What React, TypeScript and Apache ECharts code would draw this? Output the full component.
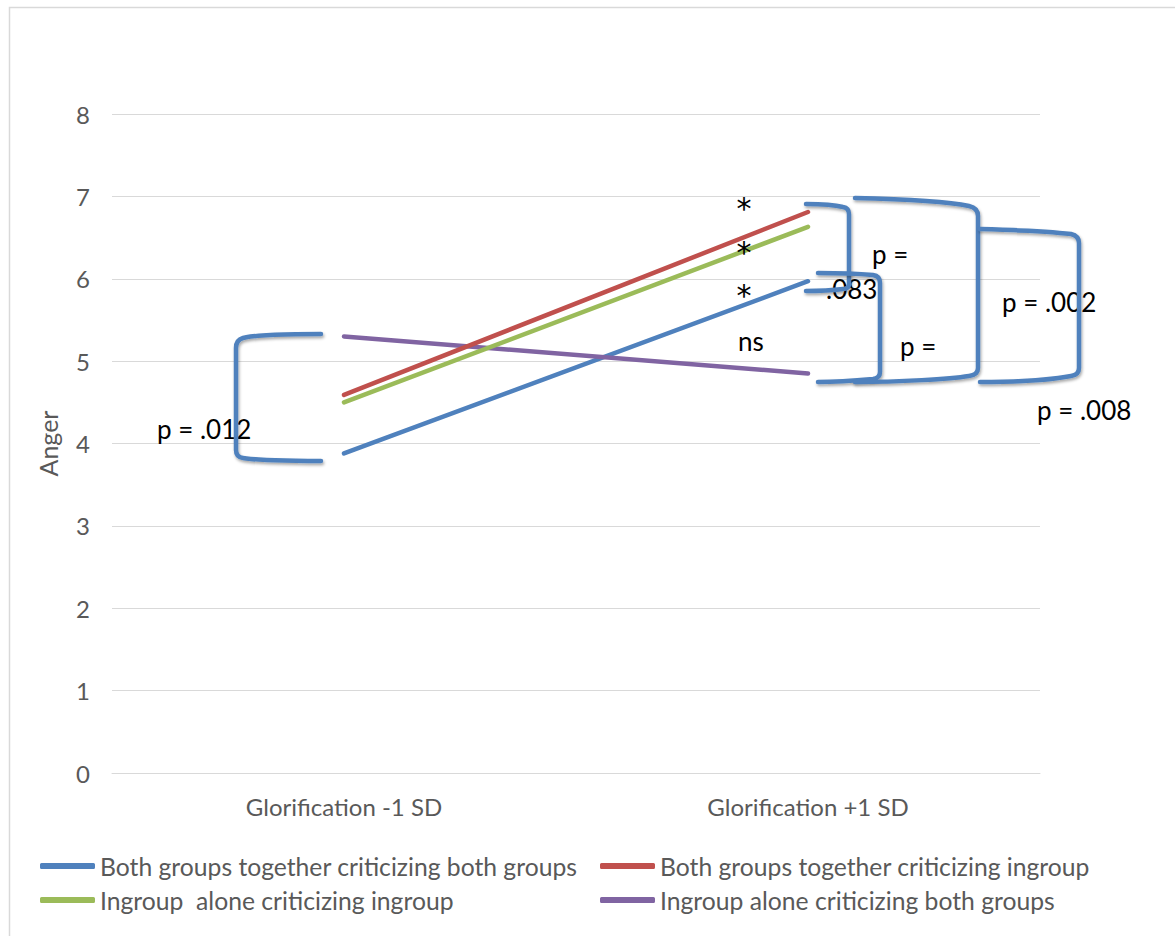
import React, { useEffect, useRef } from "react";
import * as echarts from "echarts";

const categories = ["Glorification -1 SD", "Glorification +1 SD"];
const seriesNames = [
  "Both groups together criticizing both groups",
  "Both groups together criticizing ingroup",
  "Ingroup  alone criticizing ingroup",
  "Ingroup alone criticizing both groups",
];
const seriesColors = ["#4F81BD", "#C0504D", "#9BBB59", "#8064A2"];
const bothBoth = [3.88, 5.97];
const bothIngroup = [4.59, 6.81];
const aloneIngroup = [4.5, 6.63];
const aloneBoth = [5.3, 4.85];
const yTicks = [0, 1, 2, 3, 4, 5, 6, 7, 8];

const BRACKETS: Record<string, string> = {
  brL: "M 321 334 C 290 334 255 335 243 338 Q 236 340 236 348 L 236 450 Q 236 457 243 458 C 255 460 290 461 321 461",
  brA: "M 806 204 C 820 204 835 205 843 207 Q 849 208 849 214 L 849 284 Q 849 289 843 289 C 835 290 820 291 806 291",
  brB: "M 818 273 C 840 273 862 274 873 275 Q 880 276 880 283 L 880 372 Q 880 378 873 379 C 862 380 840 382 818 382",
  brC: "M 855 198 C 900 199 950 202 969 206 Q 978 208 978 216 L 978 368 Q 978 375 969 376 C 950 379 900 382 855 382",
  brD: "M 980 229 C 1020 230 1055 232 1071 234 Q 1079 236 1079 243 L 1079 368 Q 1079 375 1071 376 C 1055 379 1020 382 980 382",
};
Object.keys(BRACKETS).forEach((k) => {
  echarts.graphic.registerShape(k, echarts.graphic.extendPath(BRACKETS[k], {}));
});

const FONT = "Lato";
const AX = "#595959";

function bracket(name: string) {
  return {
    type: name,
    x: 0,
    y: 0,
    z: 20,
    style: {
      fill: "none",
      stroke: "#4F81BD",
      lineWidth: 4.5,
      lineCap: "round",
      shadowBlur: 3,
      shadowOffsetX: 1,
      shadowOffsetY: 2,
      shadowColor: "rgba(0,0,0,0.35)",
    },
  };
}

function label(text: string, x: number, y: number, align = "left", font = `26px ${FONT}`) {
  return {
    type: "text",
    x,
    y,
    z: 15,
    style: {
      text,
      fill: "#000",
      font,
      textAlign: align,
      textVerticalAlign: "middle",
    },
  };
}

const STAR_FONT = "30px 'DejaVu Sans'";

export default function App() {
  const ref = useRef<HTMLDivElement>(null);
  useEffect(() => {
    if (!ref.current) return;
    const chart = echarts.init(ref.current, undefined, { renderer: "svg" });
    const data = [bothBoth, bothIngroup, aloneIngroup, aloneBoth];
    const legendPos = [
      { left: 40, top: 853 },
      { left: 600, top: 853 },
      { left: 40, top: 887 },
      { left: 600, top: 887 },
    ];
    chart.setOption({
      animation: false,
      backgroundColor: "#fff",
      grid: { left: 112, top: 114, width: 928, height: 659 },
      xAxis: {
        type: "category",
        data: categories,
        boundaryGap: true,
        axisLine: { show: true, lineStyle: { color: "#d9d9d9", width: 1 } },
        axisTick: { show: false },
        axisLabel: { color: AX, fontSize: 24, fontFamily: FONT, margin: 21 },
      },
      yAxis: {
        type: "value",
        min: yTicks[0],
        max: yTicks[yTicks.length - 1],
        interval: 1,
        name: "Anger",
        nameLocation: "middle",
        nameGap: 52,
        nameRotate: 90,
        nameTextStyle: { color: AX, fontSize: 25, fontFamily: FONT },
        axisLine: { show: false },
        axisTick: { show: false },
        axisLabel: { color: AX, fontSize: 24, fontFamily: FONT, margin: 22 },
        splitLine: { lineStyle: { color: "#d9d9d9", width: 1 } },
      },
      legend: seriesNames.map((n, i) => ({
        data: [n],
        left: legendPos[i].left,
        top: legendPos[i].top,
        icon: "roundRect",
        itemWidth: 55,
        itemHeight: 6,
        padding: 0,
        textStyle: { color: AX, fontSize: 24.7, fontFamily: FONT, lineHeight: 26 },
      })),
      series: seriesNames.map((n, i) => ({
        name: n,
        type: "line",
        data: data[i],
        symbol: "none",
        color: seriesColors[i],
        lineStyle: { width: 4.5, color: seriesColors[i], cap: "round" },
        z: 2 + (i === 3 ? 0 : i),
      })),
      graphic: [
        {
          type: "rect",
          z: 0,
          silent: true,
          shape: { x: 9.5, y: 7.5, width: 1300, height: 1100 },
          style: { fill: "none", stroke: "#d9d9d9", lineWidth: 1.5 },
        },
        label("p = .012", 157, 429),
        label("*", 744, 208, "center", STAR_FONT),
        label("*", 744, 252, "center", STAR_FONT),
        label("*", 744, 295, "center", STAR_FONT),
        label("ns", 751, 341, "center"),
        label("p =", 872, 254),
        label(".083", 826, 289),
        label("p =", 900, 346),
        label("p = .002", 1002, 302),
        label("p = .008", 1037, 410),
        bracket("brL"),
        bracket("brA"),
        bracket("brB"),
        bracket("brC"),
        bracket("brD"),
      ],
    });
    return () => chart.dispose();
  }, []);
  return (
    <div
      ref={ref}
      style={{ position: "absolute", left: 0, top: 0, width: 1175, height: 936 }}
    />
  );
}
